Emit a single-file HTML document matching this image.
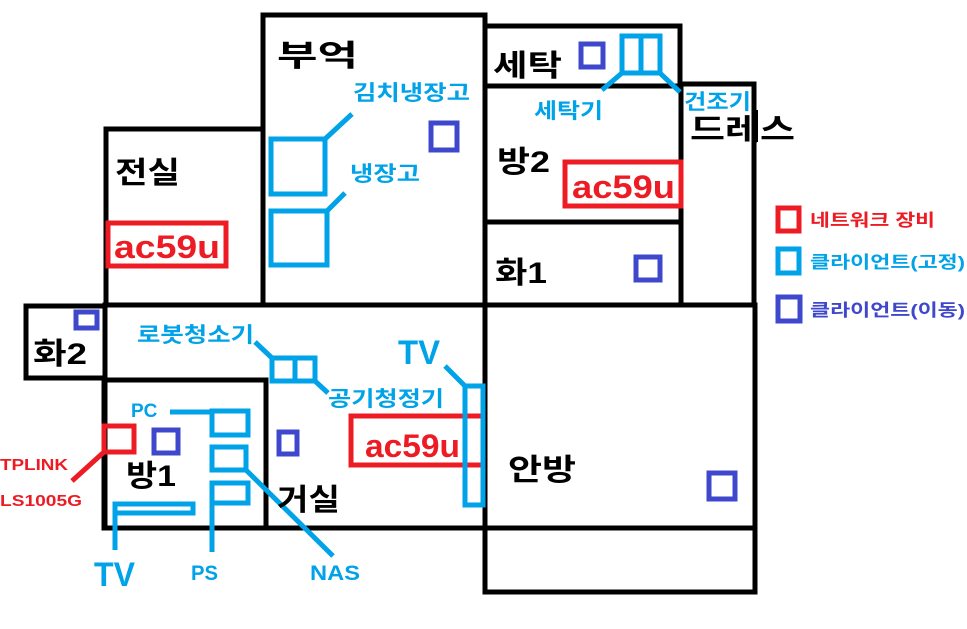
<!DOCTYPE html>
<html><head><meta charset="utf-8"><style>
body{margin:0;background:#fff;}
svg{display:block;}
text{font-family:"Liberation Sans","Noto Sans CJK KR",sans-serif;font-weight:bold;}
.k{fill:#000;font-size:30px;}
.b{fill:#00a2e8;font-size:21px;}
.r{fill:#ed1c24;font-size:32px;}
</style></head><body>
<svg width="967" height="629" viewBox="0 0 967 629" xmlns="http://www.w3.org/2000/svg">
<g fill="none" stroke="#000" stroke-width="5">
<rect x="263" y="15" width="222" height="290"/>
<rect x="485" y="26" width="195" height="60"/>
<rect x="485" y="86" width="196" height="136"/>
<rect x="485" y="222" width="196" height="83"/>
<rect x="681" y="84" width="73" height="221"/>
<rect x="106" y="129" width="157" height="176"/>
<rect x="26" y="306" width="79" height="72"/>
<rect x="105" y="305" width="380" height="223"/>
<rect x="104" y="380" width="162" height="148"/>
<rect x="485" y="305" width="270" height="223"/>
<rect x="485" y="528" width="270" height="64"/>
<line x1="485" y1="15" x2="485" y2="592"/>
<line x1="755" y1="110" x2="755" y2="142" stroke-width="6"/>
</g>
<g fill="none" stroke="#ed1c24" stroke-width="5">
<rect x="108" y="223" width="118" height="43"/>
<rect x="565" y="162" width="116" height="44"/>
<rect x="351" y="416" width="132" height="49"/>
<rect x="104" y="426" width="30" height="26"/>
<line x1="104" y1="452" x2="72" y2="481"/>
<rect x="778" y="208" width="21" height="23"/>
</g>
<g fill="none" stroke="#00a2e8" stroke-width="5">
<rect x="271" y="139" width="54" height="55"/>
<rect x="271" y="211" width="56" height="54"/>
<line x1="325" y1="139" x2="352" y2="114"/>
<line x1="327" y1="211" x2="345" y2="193"/>
<rect x="622" y="36" width="38" height="37"/>
<line x1="641" y1="36" x2="641" y2="73"/>
<line x1="622" y1="73" x2="602" y2="90"/>
<line x1="660" y1="73" x2="680" y2="92"/>
<rect x="272" y="358" width="43" height="23"/>
<line x1="295" y1="358" x2="295" y2="381"/>
<line x1="255" y1="342" x2="272" y2="358"/>
<line x1="315" y1="381" x2="328" y2="393"/>
<rect x="465" y="386" width="18" height="119"/>
<line x1="445" y1="366" x2="465" y2="386"/>
<line x1="170" y1="412" x2="212" y2="412"/>
<rect x="212" y="411" width="36" height="24"/>
<rect x="212" y="447" width="34" height="23"/>
<polyline points="212,552 212,483 248,483 248,503 212,503"/>
<line x1="246" y1="470" x2="333" y2="556"/>
<polyline points="115,550 115,504 193,504 193,513 115,513"/>
<rect x="778" y="249" width="21" height="24"/>
</g>
<g fill="none" stroke="#3f48cc" stroke-width="5">
<rect x="431" y="123" width="26" height="27"/>
<rect x="581" y="44" width="22" height="23"/>
<rect x="636" y="257" width="24" height="23"/>
<rect x="709" y="473" width="26" height="26"/>
<rect x="76" y="312" width="21" height="16"/>
<rect x="154" y="430" width="24" height="23"/>
<rect x="279" y="432" width="18" height="22"/>
<rect x="778" y="297" width="22" height="24"/>
</g>
<g lengthAdjust="spacingAndGlyphs">
<text class="k" x="277" y="66" textLength="81" lengthAdjust="spacingAndGlyphs">부억</text>
<text class="k" x="493" y="76" textLength="69" lengthAdjust="spacingAndGlyphs">세탁</text>
<text class="k" x="690" y="140" textLength="105" lengthAdjust="spacingAndGlyphs">드레스</text>
<text class="k" x="497" y="172" textLength="53" lengthAdjust="spacingAndGlyphs">방2</text>
<text class="k" x="495" y="283" textLength="52" lengthAdjust="spacingAndGlyphs">화1</text>
<text class="k" x="115" y="183" textLength="65" lengthAdjust="spacingAndGlyphs">전실</text>
<text class="k" x="33" y="364" textLength="54" lengthAdjust="spacingAndGlyphs">화2</text>
<text class="k" x="126" y="486" textLength="50" lengthAdjust="spacingAndGlyphs">방1</text>
<text class="k" x="277" y="510" textLength="63" lengthAdjust="spacingAndGlyphs">거실</text>
<text class="k" x="508" y="480" textLength="68" lengthAdjust="spacingAndGlyphs">안방</text>
<text class="r" x="114" y="258" textLength="106" lengthAdjust="spacingAndGlyphs">ac59u</text>
<text class="r" x="572" y="198" textLength="103" lengthAdjust="spacingAndGlyphs">ac59u</text>
<text class="r" x="365" y="457" textLength="95" lengthAdjust="spacingAndGlyphs">ac59u</text>
<text class="b" x="353" y="100" textLength="117" lengthAdjust="spacingAndGlyphs">김치냉장고</text>
<text class="b" x="350" y="181" textLength="70" lengthAdjust="spacingAndGlyphs">냉장고</text>
<text class="b" x="534" y="118" textLength="69" lengthAdjust="spacingAndGlyphs">세탁기</text>
<text class="b" x="684" y="109" textLength="67" lengthAdjust="spacingAndGlyphs">건조기</text>
<text class="b" x="137" y="342" textLength="117" lengthAdjust="spacingAndGlyphs">로봇청소기</text>
<text class="b" x="328" y="406" textLength="116" lengthAdjust="spacingAndGlyphs">공기청정기</text>
<text class="b" x="398" y="364" style="font-size:34px" textLength="42" lengthAdjust="spacingAndGlyphs">TV</text>
<text class="b" x="131" y="417" style="font-size:19px">PC</text>
<text class="b" x="94" y="586" style="font-size:34px" textLength="41" lengthAdjust="spacingAndGlyphs">TV</text>
<text class="b" x="191" y="580" textLength="27" lengthAdjust="spacingAndGlyphs">PS</text>
<text class="b" x="310" y="580" textLength="50" lengthAdjust="spacingAndGlyphs">NAS</text>
<text x="0" y="470" fill="#ed1c24" style="font-size:16px" textLength="68" lengthAdjust="spacingAndGlyphs">TPLINK</text>
<text x="0" y="506" fill="#ed1c24" style="font-size:16px" textLength="82" lengthAdjust="spacingAndGlyphs">LS1005G</text>
<text x="810" y="226" fill="#ed1c24" style="font-size:17px" textLength="125" lengthAdjust="spacingAndGlyphs">네트워크 장비</text>
<text x="810" y="268" fill="#00a2e8" style="font-size:17px" textLength="155" lengthAdjust="spacingAndGlyphs">클라이언트(고정)</text>
<text x="810" y="316" fill="#3f48cc" style="font-size:17px" textLength="155" lengthAdjust="spacingAndGlyphs">클라이언트(이동)</text>
</g>
</svg>
</body></html>
